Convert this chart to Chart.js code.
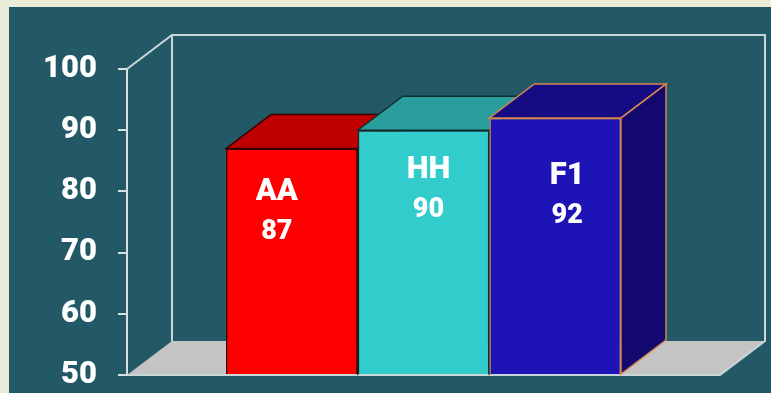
<!DOCTYPE html>
<html>
<head>
<meta charset="utf-8">
<script src="https://cdn.jsdelivr.net/npm/chart.js@4"></script>
<style>
  html, body { margin: 0; padding: 0; background: #e9ecd7; overflow: hidden; }
  #panel { position: absolute; left: 9px; top: 7px; width: 762px; height: 386px; background: #235966; }
  #scores { display: block; }
</style>
</head>
<body>
<div id="panel"><canvas id="scores" width="762" height="386"></canvas></div>
<script>
// series shown as one group of bars
const seriesNames = ['AA', 'HH', 'F1']
const seriesValues = [87, 90, 92]
const yTicks = [50, 60, 70, 80, 90, 100]

// front / top / side colours per bar
const frontColors = ['#ff0000', '#33cccc', '#1e14b6']
const topColors = ['#c00000', '#2a9e9c', '#150c84']
const sideColors = ['#a00000', '#1f8080', '#12086e']
const edgeColors = ['#3a0000', '#0f2f30', '#d9844e']
// where each bar's caption sits relative to the bar top
const captionShift = [[-15, 44], [5, 40], [12, 58]]

const depthX = 45
const depthY = -34
const labelFont = 'Roboto'

function poly(ctx, pts, fill, stroke) {
  ctx.beginPath()
  ctx.moveTo(pts[0][0], pts[0][1])
  for (let i = 1; i < pts.length; i++) ctx.lineTo(pts[i][0], pts[i][1])
  ctx.closePath()
  ctx.fillStyle = fill
  ctx.fill()
  if (stroke) {
    ctx.strokeStyle = stroke
    ctx.lineWidth = 1.5
    ctx.stroke()
  }
}

const box3d = {
  id: 'box3d',
  beforeDatasetsDraw(chart) {
    const { ctx, chartArea: a } = chart
    ctx.save()
    // floor
    poly(ctx, [[a.left, a.bottom], [a.right, a.bottom], [a.right + depthX, a.bottom + depthY], [a.left + depthX, a.bottom + depthY]], '#c4c4c4')
    // walls outline
    ctx.strokeStyle = '#c9d6d9'
    ctx.lineWidth = 2
    ctx.beginPath()
    ctx.moveTo(a.left, a.top)
    ctx.lineTo(a.left + depthX, a.top + depthY)
    ctx.lineTo(a.right + depthX, a.top + depthY)
    ctx.lineTo(a.right + depthX, a.bottom + depthY)
    ctx.lineTo(a.right, a.bottom)
    ctx.lineTo(a.left, a.bottom)
    ctx.moveTo(a.left + depthX, a.top + depthY)
    ctx.lineTo(a.left + depthX, a.bottom + depthY)
    ctx.stroke()
    ctx.restore()
  },
  afterDatasetsDraw(chart) {
    const ctx = chart.ctx
    ctx.save()
    // left to right so each bar hides the previous one's top and side
    chart.data.datasets.forEach((ds, i) => {
      let bar = chart.getDatasetMeta(i).data[0]
      let l = bar.x - bar.width / 2
      let r = bar.x + bar.width / 2
      let t = bar.y
      let b = bar.base
      poly(ctx, [[r, t], [r + depthX, t + depthY], [r + depthX, b + depthY], [r, b]], sideColors[i], edgeColors[i])
      poly(ctx, [[l, t], [r, t], [r + depthX, t + depthY], [l + depthX, t + depthY]], topColors[i], edgeColors[i])
      bar.draw(ctx)
    })
    ctx.fillStyle = '#ffffff'
    ctx.textAlign = 'center'
    ctx.textBaseline = 'middle'
    chart.data.datasets.forEach((ds, i) => {
      let bar = chart.getDatasetMeta(i).data[0]
      let cx = bar.x + captionShift[i][0]
      let cy = bar.y + captionShift[i][1]
      ctx.font = '900 31px ' + labelFont
      ctx.fillText(ds.label, cx, cy)
      ctx.font = '900 27px ' + labelFont
      ctx.fillText(String(ds.data[0]), cx, cy + 40)
    })
    ctx.restore()
  }
}

const ctx = document.getElementById('scores')

new Chart(ctx, {
  type: 'bar',
  data: {
    labels: [''],
    datasets: seriesNames.map((name, i) => ({
      label: name,
      data: [seriesValues[i]],
      base: yTicks[0],
      backgroundColor: frontColors[i],
      borderColor: edgeColors[i],
      borderWidth: 1.5,
      clip: false
    }))
  },
  options: {
    responsive: false,
    animation: false,
    events: [],
    categoryPercentage: 0.666,
    barPercentage: 1,
    layout: { padding: { top: 62, right: 51, bottom: 18, left: 0 } },
    plugins: {
      legend: { display: false },
      tooltip: { enabled: false }
    },
    scales: {
      x: { display: false },
      y: {
        min: 50,
        max: 100,
        afterBuildTicks: (scale) => { scale.ticks = yTicks.map(v => ({ value: v })) },
        afterFit: (scale) => {
          scale.width = 118
          // the bottom label may run past the canvas edge
          scale.paddingTop = 0
          scale.paddingBottom = 0
        },
        ticks: {
          color: '#ffffff',
          padding: 21,
          font: { family: labelFont, size: 31, weight: '900' }
        },
        grid: {
          drawOnChartArea: false,
          tickLength: 9,
          color: '#d6dfe1',
          lineWidth: 2
        },
        border: { color: '#d6dfe1', width: 2 }
      }
    }
  },
  plugins: [box3d]
})
</script>
</body>
</html>
